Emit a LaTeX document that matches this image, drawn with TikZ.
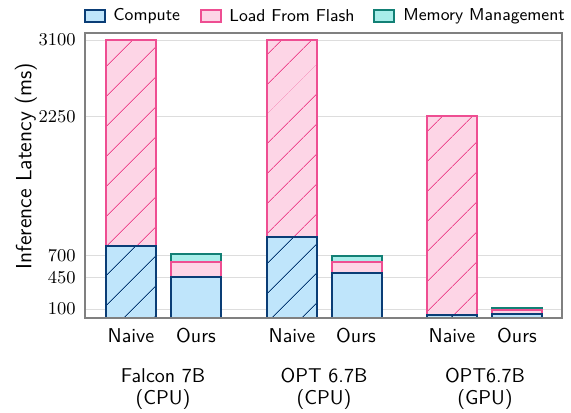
\documentclass[tikz,border=0pt]{standalone}
\usetikzlibrary{patterns.meta}

\definecolor{compfill}{HTML}{BFE5FB}
\definecolor{compdraw}{HTML}{0A3D76}
\definecolor{loadfill}{HTML}{FDD5E6}
\definecolor{loaddraw}{HTML}{EE4E92}
\definecolor{memfill}{HTML}{A8EEEA}
\definecolor{memdraw}{HTML}{128075}
\definecolor{gridgray}{HTML}{DDDDDD}
\definecolor{framegray}{HTML}{808080}

\begin{document}
\begin{tikzpicture}
	[x=0.5pt,y=-0.5pt,
	declare function={yv(\v)=318-0.08967*\v;},
	comp/.style={draw=compdraw,fill=compfill,line width=1pt},
	load/.style={draw=loaddraw,fill=loadfill,line width=1pt},
	mem/.style={draw=memdraw,fill=memfill,line width=1pt},
	hatch/.style={postaction={pattern={Lines[angle=45,distance=10.5pt,line width=0.5pt]},pattern color=#1}},
	lbox/.style={minimum width=10pt,minimum height=6pt,inner sep=0pt,line width=1pt},
	key/.style={font=\sffamily\fontsize{8.6}{10}\selectfont,inner sep=0pt,anchor=west},
	tick/.style={font=\fontsize{9}{10}\selectfont,inner sep=0pt,anchor=east},
	lbl/.style={font=\sffamily\fontsize{10}{11}\selectfont,inner sep=0pt}]
	\useasboundingbox (0,0) rectangle (571,412);

	% grid lines and y ticks
	\foreach \v in {100,450,700,2250,3100}{
		\draw[gridgray,line width=0.5pt] (85,{yv(\v)}) -- (562,{yv(\v)});
		\node[tick] (t\v) at (76,{yv(\v)}) {\v};
	}

	% naive bars
	\foreach \x/\c/\l in {106/800/3100,267/903/3100,427/35/2250}{
		\draw[load,hatch=loaddraw] (\x,{yv(\c)}) rectangle (\x+50,{yv(\l)});
		\draw[comp,hatch=compdraw] (\x,{yv(0)}) rectangle (\x+50,{yv(\c)});
	}

	% our bars
	\foreach \x/\c/\l/\m in {171/457/624/713,332/505/624/694,492/50/85/115}{
		\draw[mem] (\x,{yv(\l)}) rectangle (\x+50,{yv(\m)});
		\draw[load] (\x,{yv(\c)}) rectangle (\x+50,{yv(\l)});
		\draw[comp] (\x,{yv(0)}) rectangle (\x+50,{yv(\c)});
	}

	\draw[framegray,line width=0.6pt] (85,33) rectangle (562,318);

	% axis labels
	\node[lbl,rotate=90,font=\sffamily\fontsize{11}{13}\selectfont] (yl) at (26,166) {Inference Latency (ms)};
	\foreach \n/\x/\t in {a/131/Naive,b/196/Ours,c/292/Naive,d/356/Ours,e/452/Naive,f/517/Ours}
		\node[lbl,anchor=base] (\n) at (\x,342) {\t};
	\node[lbl,anchor=north,align=center] (g1) at (163,368) {Falcon 7B\\(CPU)};
	\node[lbl,anchor=north,align=center] (g2) at (324,368) {OPT 6.7B\\(CPU)};
	\node[lbl,anchor=north,align=center] (g3) at (485,368) {OPT6.7B\\(GPU)};

	% legend
	\node[lbox,draw=compdraw,fill=compfill] (k1) at (95,16) {};
	\node[key] (l1) at (113,16) {Compute};
	\node[lbox,draw=loaddraw,fill=loadfill] (k2) at (210.5,16) {};
	\node[key] (l2) at (229,16) {Load From Flash};
	\node[lbox,draw=memdraw,fill=memfill] (k3) at (383.5,16) {};
	\node[key] (l3) at (403,16) {Memory Management};
\end{tikzpicture}
\end{document}
